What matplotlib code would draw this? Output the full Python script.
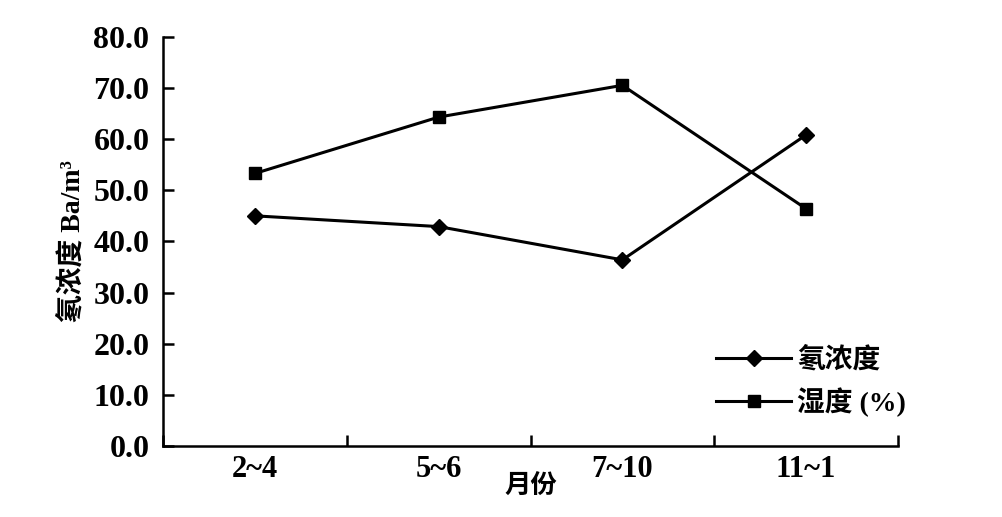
import matplotlib.pyplot as plt
import numpy as np

# data
months = ['2~4', '5~6', '7~10', '11~1']
radon = [45.0, 42.9, 36.4, 60.8]
humidity = [53.3, 64.3, 70.5, 46.4]
y_ticks = [0, 10, 20, 30, 40, 50, 60, 70, 80]

plt.rcParams['font.family'] = ['Liberation Serif', 'Noto Sans CJK SC']
plt.rcParams['font.weight'] = 'bold'

fig = plt.figure(figsize=(10.02, 5.17), dpi=100)
ax = fig.add_axes([0.163, 0.137, 0.733, 0.792])

x = np.arange(len(months))
ax.plot(x, radon, color='black', lw=2.2, marker='D', ms=8.5, label='氡浓度')
ax.plot(x, humidity, color='black', lw=2.2, marker='s', ms=8.5, label='湿度 (%)')

ax.set_xlim(-0.5, len(months) - 0.5)
ax.set_ylim(0, 80)

# ticks on category boundaries, labels in the middle
ax.set_xticks(np.arange(len(months) + 1) - 0.5)
ax.set_xticklabels([])
ax.set_xticks(x, minor=True)
ax.set_xticklabels(months, minor=True, fontsize=22, fontweight='bold')
ax.tick_params(axis='x', which='major', direction='in', length=8, width=1.8)
ax.tick_params(axis='x', which='minor', length=0, pad=6)

ax.set_yticks(y_ticks)
ax.set_yticklabels([f'{v:.1f}' for v in y_ticks], fontsize=23, fontweight='bold')
ax.tick_params(axis='y', direction='in', length=8, width=1.8, pad=10)

for side in ['top', 'right']:
    ax.spines[side].set_visible(False)
for side in ['left', 'bottom']:
    ax.spines[side].set_linewidth(1.8)

ax.set_xlabel('月份', fontsize=19, fontweight='bold', labelpad=-6)
ax.set_ylabel('氡浓度 Ba/m³', fontsize=20, fontweight='bold', labelpad=6)

ax.legend(loc='lower right', bbox_to_anchor=(1.045, 0.01), frameon=False,
          handlelength=2.7, handletextpad=0.2, labelspacing=0.5,
          prop={'weight': 'bold', 'size': 20})

fig.savefig('out.png', dpi=100)
